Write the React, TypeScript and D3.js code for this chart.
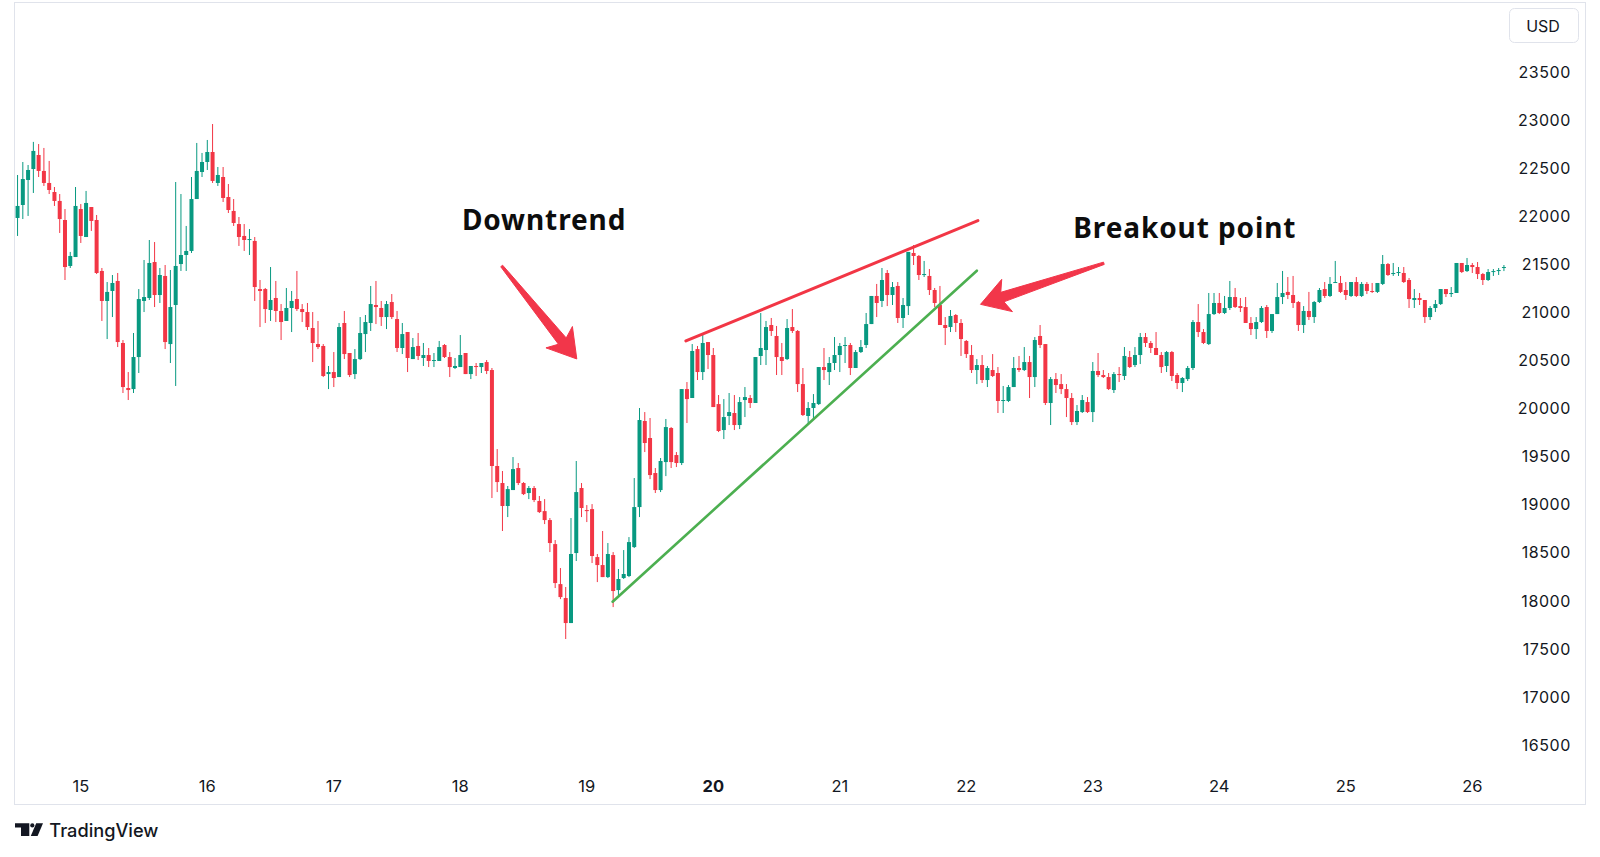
import * as d3 from "d3";

// hourly candles, first one at 14th 12:00
const open = [
  21979, 22114, 22374, 22488, 22634, 22468, 22343, 22249, 22156, 21958,
  21480, 21573, 22072, 21781, 22093, 21958, 21428, 21116, 21220, 21324,
  20679, 20211, 20200, 20533, 21116, 21147, 21521, 21178, 21376, 20668,
  21074, 21500, 21594, 21636, 22176, 22457, 22561, 22665, 22343, 22405,
  22197, 22052, 21916, 21792, 21750, 21740, 21240, 21240, 21022, 21147,
  21012, 20908, 21043, 21136, 21032, 21001, 20835, 20668, 20648, 20356,
  20377, 20325, 20887, 20575, 20356, 20512, 20772, 20887, 21074, 21043,
  20949, 21105, 20928, 20627, 20793, 20512, 20648, 20523, 20554, 20492,
  20492, 20658, 20533, 20419, 20429, 20575, 20356, 20440, 20429, 20481,
  20398, 19400, 19223, 18984, 19150, 19379, 19223, 19119, 19171, 19036,
  18931, 18838, 18588, 18172, 18027, 17767, 18495, 19171, 18942, 18952,
  18453, 18370, 18245, 18474, 18110, 18235, 18256, 18557, 18973, 19868,
  19691, 19327, 19150, 19441, 19795, 19514, 19431, 20200, 20107, 20616,
  20377, 20689, 20554, 20044, 19774, 19920, 19951, 19826, 20086, 20107,
  20055, 20544, 20606, 20866, 20752, 20533, 20512, 20845, 20804, 20252,
  19920, 20003, 20044, 20429, 20377, 20471, 20554, 20648, 20658, 20419,
  20585, 20658, 20876, 21168, 21116, 21407, 21178, 21272, 20939, 21063,
  21615, 21584, 21386, 21376, 21230, 21074, 20866, 20845, 20970, 20887,
  20700, 20554, 20398, 20450, 20294, 20398, 20367, 20076, 20076, 20221,
  20419, 20398, 20481, 20325, 20752, 20668, 20055, 20304, 20252, 20200,
  20107, 19857, 19961, 20065, 19961, 20388, 20346, 20325, 20190, 20356,
  20336, 20533, 20450, 20554, 20741, 20679, 20627, 20554, 20440, 20585,
  20346, 20263, 20304, 20419, 20897, 20793, 20668, 20980, 21095, 20991,
  21043, 21157, 21063, 21053, 20887, 20824, 20897, 21053, 20804, 20980,
  21157, 21210, 21178, 21105, 20866, 21012, 20949, 21105, 21240, 21168,
  21303, 21303, 21230, 21168, 21313, 21168, 21293, 21220, 21210, 21293,
  21500, 21396, 21407, 21407, 21334, 21126, 21147, 21126, 20949, 21043,
  21084, 21240, 21188, 21199, 21511, 21427, 21490, 21469, 21396, 21334,
  21417, 21427, 21459,
];

const high = [
  22426, 22561, 22530, 22770, 22748, 22707, 22572, 22301, 22228, 22072,
  21626, 22301, 22124, 22260, 22093, 22010, 21459, 21313, 21386, 21407,
  20710, 20377, 20783, 21240, 21542, 21750, 21729, 21459, 21490, 21438,
  22353, 22228, 21896, 22405, 22759, 22655, 22790, 22956, 22509, 22509,
  22332, 22176, 21989, 21916, 21864, 21781, 21334, 21251, 21469, 21324,
  21084, 21251, 21220, 21428, 21084, 21095, 21001, 20908, 20668, 20440,
  20585, 20887, 21012, 20575, 20616, 20949, 20970, 21272, 21324, 21116,
  21116, 21188, 21012, 20887, 20793, 20731, 20783, 20679, 20627, 20575,
  20700, 20668, 20585, 20523, 20762, 20575, 20440, 20471, 20471, 20502,
  20419, 19576, 19348, 19192, 19493, 19431, 19233, 19192, 19192, 19088,
  19056, 18859, 18630, 18339, 18142, 18859, 19452, 19223, 18994, 19004,
  18485, 18724, 18599, 18505, 18329, 18526, 18661, 19275, 20003, 19961,
  19899, 19379, 19483, 19889, 19805, 19545, 20200, 20273, 20668, 20648,
  20772, 20689, 20627, 20138, 20096, 20159, 20138, 20117, 20221, 20138,
  20533, 20991, 20908, 20939, 20856, 20679, 20928, 21032, 20814, 20419,
  20065, 20148, 20429, 20627, 20533, 20741, 20679, 20741, 20679, 20606,
  20710, 20991, 21168, 21293, 21459, 21438, 21313, 21313, 21147, 21626,
  21698, 21594, 21532, 21448, 21251, 21272, 20949, 21022, 20980, 20928,
  20710, 20658, 20512, 20554, 20440, 20564, 20429, 20232, 20242, 20533,
  20544, 20637, 20544, 20741, 20866, 20668, 20325, 20367, 20356, 20252,
  20159, 20034, 20138, 20117, 20481, 20575, 20398, 20367, 20377, 20429,
  20637, 20596, 20637, 20783, 20783, 20700, 20793, 20585, 20596, 20596,
  20367, 20325, 20440, 20918, 21084, 20824, 21199, 21199, 21199, 21168,
  21324, 21251, 21147, 21157, 20949, 20949, 21063, 21074, 20980, 21303,
  21428, 21365, 21376, 21116, 21063, 21210, 21116, 21251, 21313, 21365,
  21532, 21376, 21313, 21313, 21365, 21313, 21313, 21303, 21303, 21594,
  21511, 21511, 21469, 21469, 21355, 21240, 21199, 21126, 21063, 21126,
  21240, 21240, 21261, 21511, 21511, 21563, 21511, 21521, 21407, 21448,
  21448, 21459, 21490,
];

const low = [
  21792, 21968, 22000, 22239, 22405, 22312, 22228, 22104, 21823, 21334,
  21459, 21573, 21719, 21781, 21844, 21396, 20908, 20720, 20949, 20637,
  20159, 20086, 20159, 20367, 21001, 21126, 21053, 21095, 20616, 20471,
  20232, 21428, 21428, 21615, 22176, 22405, 22478, 22343, 22312, 22145,
  22031, 21896, 21688, 21636, 21594, 21116, 20845, 20887, 20908, 20897,
  20710, 20908, 20793, 21012, 20897, 20814, 20481, 20616, 20325, 20200,
  20221, 20325, 20512, 20325, 20304, 20502, 20585, 20804, 20876, 20856,
  20824, 20928, 20585, 20564, 20377, 20512, 20502, 20440, 20429, 20429,
  20492, 20523, 20325, 20408, 20429, 20356, 20304, 20336, 20367, 20356,
  19067, 19129, 18724, 18869, 19150, 19202, 19098, 19056, 19025, 18911,
  18796, 18505, 18131, 18016, 17601, 17767, 18412, 18869, 18817, 18391,
  18193, 18245, 18235, 17933, 18037, 18225, 18245, 18547, 18869, 19545,
  19264, 19119, 19129, 19295, 19379, 19389, 19410, 19847, 20107, 20294,
  20294, 20408, 20013, 19753, 19680, 19826, 19774, 19784, 19909, 20003,
  20055, 20450, 20450, 20752, 20346, 20346, 20502, 20783, 20169, 19920,
  19826, 19878, 20034, 20294, 20242, 20398, 20377, 20471, 20346, 20419,
  20575, 20627, 20876, 20949, 21053, 21063, 21074, 20887, 20835, 20970,
  21490, 21334, 21365, 21178, 21053, 20866, 20658, 20793, 20793, 20544,
  20523, 20367, 20252, 20263, 20221, 20325, 19951, 19951, 20065, 20221,
  20377, 20388, 20107, 20221, 20627, 20034, 19826, 20159, 20148, 19909,
  19826, 19826, 19951, 19951, 19857, 20325, 20315, 20190, 20159, 20273,
  20294, 20419, 20429, 20460, 20637, 20575, 20554, 20367, 20377, 20284,
  20200, 20169, 20284, 20398, 20741, 20668, 20658, 20970, 20980, 20980,
  21022, 21043, 21001, 20887, 20762, 20720, 20887, 20731, 20783, 20980,
  21084, 21136, 21043, 20804, 20783, 20918, 20887, 21095, 21147, 21157,
  21303, 21199, 21126, 21157, 21157, 21157, 21188, 21199, 21199, 21282,
  21376, 21376, 21376, 21303, 21043, 21043, 21074, 20887, 20918, 21001,
  21074, 21157, 21157, 21199, 21407, 21417, 21407, 21344, 21282, 21324,
  21376, 21386, 21427,
];

const close = [
  22104, 22384, 22478, 22676, 22468, 22343, 22270, 22156, 21968, 21469,
  21584, 22104, 21792, 22135, 21948, 21407, 21116, 21210, 21303, 20689,
  20221, 20190, 20533, 21136, 21157, 21511, 21178, 21386, 20689, 21053,
  21480, 21594, 21636, 22176, 22468, 22561, 22665, 22364, 22426, 22187,
  22062, 21927, 21781, 21750, 21760, 21261, 21220, 21032, 21126, 21012,
  20897, 21043, 21116, 21032, 21001, 20845, 20679, 20637, 20336, 20377,
  20315, 20845, 20564, 20346, 20512, 20783, 20897, 21084, 21053, 20949,
  21084, 20949, 20627, 20772, 20523, 20637, 20544, 20554, 20492, 20502,
  20637, 20533, 20429, 20440, 20554, 20356, 20440, 20429, 20471, 20388,
  19400, 19233, 18984, 19160, 19368, 19223, 19108, 19171, 19046, 18921,
  18838, 18599, 18183, 18037, 17767, 18485, 19129, 18963, 18931, 18464,
  18370, 18245, 18485, 18100, 18225, 18277, 18609, 18973, 19878, 19639,
  19306, 19150, 19452, 19805, 19441, 19431, 20200, 20096, 20596, 20377,
  20679, 20554, 20013, 19764, 19909, 19961, 19826, 20065, 20117, 20055,
  20533, 20627, 20845, 20804, 20533, 20492, 20835, 20804, 20252, 19930,
  20003, 20055, 20429, 20398, 20471, 20554, 20648, 20658, 20419, 20585,
  20637, 20876, 21168, 21095, 21334, 21178, 21261, 20939, 21074, 21626,
  21584, 21386, 21396, 21230, 21095, 20866, 20835, 20960, 20887, 20720,
  20564, 20398, 20450, 20294, 20419, 20336, 20076, 20086, 20221, 20419,
  20398, 20481, 20325, 20710, 20658, 20055, 20304, 20242, 20200, 20107,
  19857, 19972, 20086, 19961, 20388, 20346, 20325, 20200, 20356, 20346,
  20544, 20429, 20554, 20741, 20679, 20627, 20554, 20429, 20585, 20336,
  20263, 20315, 20419, 20897, 20793, 20679, 20980, 21095, 20991, 21043,
  21157, 21053, 21043, 20887, 20824, 20897, 21043, 20804, 20980, 21157,
  21199, 21178, 21095, 20866, 21012, 20949, 21105, 21230, 21168, 21293,
  21313, 21210, 21178, 21313, 21168, 21293, 21220, 21210, 21303, 21500,
  21386, 21407, 21417, 21313, 21136, 21147, 21126, 20949, 21043, 21084,
  21240, 21188, 21199, 21511, 21417, 21490, 21469, 21396, 21334, 21417,
  21427, 21438, 21469,
];

const dayLabels = ["15", "16", "17", "18", "19", "20", "21", "22", "23", "24", "25", "26"];
const boldDay = "20";
const priceTicks = [16500, 17000, 17500, 18000, 18500, 19000, 19500, 20000, 20500, 21000, 21500, 22000, 22500, 23000, 23500];

// annotations as [hour offset, price]
const resistanceLine: [number, number][] = [[126.8, 20700], [182.2, 21952]];
const supportLine: [number, number][] = [[112.9, 17989], [182.0, 21431]];
const downArrow: [number, number][] = [[91.85, 21480], [106.1, 20513]];
const breakoutArrow: [number, number][] = [[206.1, 21508], [182.7, 21081]];
const downLabel: [number, number] = [84.3, 21854];
const breakoutLabel: [number, number] = [200.3, 21774];

const UP = "#089981";
const DOWN = "#f23645";
const AXIS_FONT = "Inter, 'Noto Sans', sans-serif";

function arrowPath(tail: [number, number], tip: [number, number]) {
  const dx = tip[0] - tail[0];
  const dy = tip[1] - tail[1];
  const len = Math.hypot(dx, dy);
  const ux = dx / len;
  const uy = dy / len;
  const nx = -uy;
  const ny = ux;
  const head = 28;
  const half = 17;
  const at = (s: number, w: number): [number, number] => [tail[0] + ux * s + nx * w, tail[1] + uy * s + ny * w];
  const pts = [
    at(0, 1.2),
    at(len - head + 5, 5),
    at(len - head, half),
    at(len, 0),
    at(len - head, -half),
    at(len - head + 5, -5),
    at(0, -1.2),
  ];
  return (d3.line()(pts) ?? "") + "Z";
}

export default function App() {
  const x = d3.scaleLinear().domain([36, 276]).range([207.3, 1472.3]);
  const y = d3.scaleLinear().domain([16500, 23500]).range([744.9, 71.7]);
  const bodyWidth = 4;

  const candles = d3.range(close.length).map((i) => ({
    t: i,
    o: open[i],
    h: high[i],
    l: low[i],
    c: close[i],
  }));

  const px = (p: [number, number]): [number, number] => [x(p[0]), y(p[1])];
  const line = d3.line<[number, number]>().x((d) => x(d[0])).y((d) => y(d[1]));

  return (
    <div style={{ position: "absolute", left: 0, top: 0 }}>
      <svg width={1600} height={857} viewBox="0 0 1600 857" style={{ display: "block", background: "#ffffff" }}>
        <rect x={0} y={0} width={1600} height={857} fill="#ffffff" />
        <rect x={14.5} y={2.5} width={1571} height={802} fill="none" stroke="#e0e3eb" strokeWidth={1} />

        <g className="candles">
          {candles.map((d) => {
            const color = d.c >= d.o ? UP : DOWN;
            const cx = x(d.t);
            const top = y(Math.max(d.o, d.c));
            const bottom = y(Math.min(d.o, d.c));
            return (
              <g key={d.t}>
                <line x1={cx} x2={cx} y1={y(d.h)} y2={y(d.l)} stroke={color} strokeWidth={1} />
                <rect x={cx - bodyWidth / 2} y={top} width={bodyWidth} height={Math.max(1, bottom - top)} fill={color} />
              </g>
            );
          })}
        </g>

        <path d={line(resistanceLine) ?? ""} fill="none" stroke="#f23645" strokeWidth={3} strokeLinecap="round" />
        <path d={line(supportLine) ?? ""} fill="none" stroke="#4caf50" strokeWidth={2.6} strokeLinecap="round" />

        <path d={arrowPath(px(downArrow[0]), px(downArrow[1]))} fill="#f2364a" stroke="#f2364a" strokeWidth={1} strokeLinejoin="round" />
        <path d={arrowPath(px(breakoutArrow[0]), px(breakoutArrow[1]))} fill="#f2364a" stroke="#f2364a" strokeWidth={1} strokeLinejoin="round" />

        <text x={x(downLabel[0])} y={y(downLabel[1])} fontFamily="'Noto Sans', sans-serif" fontWeight={700} fontSize={28} letterSpacing={0.9} fill="#0d0d0d">
          Downtrend
        </text>
        <text x={x(breakoutLabel[0])} y={y(breakoutLabel[1])} fontFamily="'Noto Sans', sans-serif" fontWeight={700} fontSize={28} letterSpacing={0.9} fill="#0d0d0d">
          Breakout point
        </text>

        <g className="x-axis" fontFamily={AXIS_FONT} fontSize={16.5} fill="#131722" textAnchor="middle">
          {dayLabels.map((label, k) => (
            <text key={label} x={x(12 + 24 * k)} y={792.3} fontWeight={label === boldDay ? 700 : 400}>
              {label}
            </text>
          ))}
        </g>

        <g className="y-axis" fontFamily={AXIS_FONT} fontSize={16} fill="#131722" textAnchor="end">
          {priceTicks.map((p) => (
            <text key={p} x={1571} y={y(p) + 5.9} letterSpacing={0.6}>
              {p}
            </text>
          ))}
        </g>

        <rect x={1509.5} y={8.5} width={69} height={34} rx={5} fill="#ffffff" stroke="#e0e3eb" />
        <text x={1543} y={32} textAnchor="middle" fontFamily={AXIS_FONT} fontSize={16} fill="#131722">
          USD
        </text>

        <g className="logo" fill="#131722">
          <path d="M15 823.3 H29.3 V836 H21 V827.6 H15 Z" />
          <circle cx={32.3} cy={825.4} r={2.1} />
          <path d="M36.2 823.3 H43 L37.6 836 H30.8 Z" />
          <text x={49.3} y={836.5} fontFamily={AXIS_FONT} fontSize={18.2} fontWeight={500}>
            TradingView
          </text>
        </g>
      </svg>
    </div>
  );
}
